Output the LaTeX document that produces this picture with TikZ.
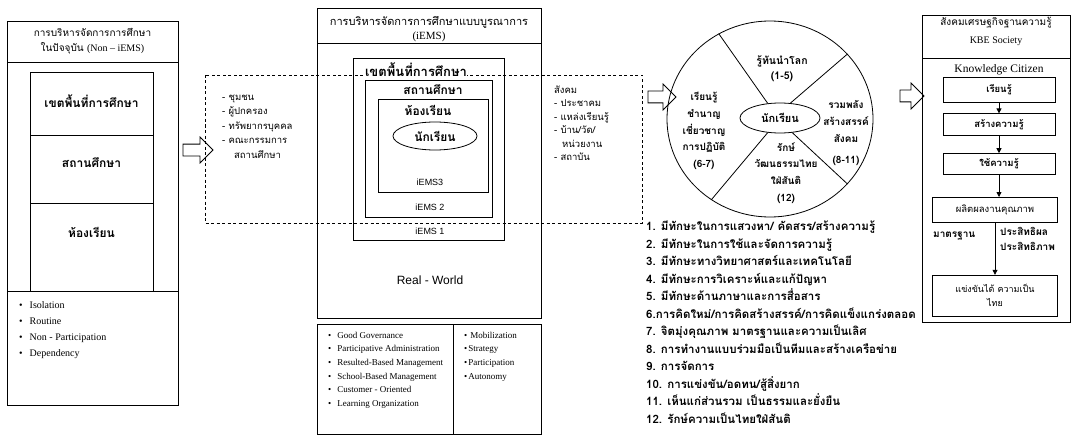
\documentclass[tikz,border=0pt]{standalone}
\usepackage{fontspec}
\setmainfont{Liberation Serif}
\setsansfont{Liberation Sans}
\newfontfamily\thaifont[Script=Thai]{Loma}
\usetikzlibrary{positioning,shapes.geometric,shapes.arrows,arrows.meta}

\begin{document}
\begin{tikzpicture}[
    x=1pt, y=-1pt,
    every node/.style={inner sep=1pt},
    frame/.style={draw, line width=0.8pt},
    zone/.style={draw, line width=0.8pt, dash pattern=on 3pt off 2.5pt},
    thtitle/.style={align=center, font={\thaifont\fontsize{10}{15}\selectfont}},
    thlabel/.style={align=center, font={\thaifont\bfseries\fontsize{12}{15}\selectfont}},
    thring/.style={align=center, font={\thaifont\bfseries\fontsize{10}{16.7}\selectfont}},
    thitem/.style={anchor=west, text height=7pt, text depth=2.5pt, font={\thaifont\fontsize{9.5}{12}\selectfont}},
    thskill/.style={anchor=west, text height=8pt, text depth=3pt, font={\thaifont\bfseries\fontsize{11.5}{13}\selectfont}},
    thnote/.style={align=left, font={\thaifont\bfseries\fontsize{10}{15}\selectfont}},
    enitem/.style={anchor=west, text height=6pt, text depth=1.5pt, font={\fontsize{9}{10}\selectfont}},
    tag/.style={font={\sffamily\fontsize{9}{11}\selectfont}},
    bigarrow/.style={draw, line width=0.8pt, fill=white, single arrow, single arrow head extend=7pt,
                     inner sep=0pt, text height=11pt, text depth=0pt, minimum height=#1},
    kbebox/.style={draw, line width=0.8pt, align=center, font={\thaifont\bfseries\fontsize{9.5}{13}\selectfont}},
    flow/.style={-{Triangle[length=5pt,width=5pt]}, line width=0.8pt}
]
\useasboundingbox (0,0) rectangle (1072,436);

% Present management (Non - iEMS)
\draw[frame] (7,21) rectangle (178,405);
\draw[frame] (7,62) -- (178,62);
\draw[frame] (7,291) -- (178,291);
\draw[frame] (30,291) -- (30,72) -- (153,72) -- (153,291);
\draw[frame] (30,135) -- (153,135);
\draw[frame] (30,203) -- (153,203);
\node[thtitle] (nowtitle) at (92.5,41.5) {การบริหารจัดการการศึกษา\\ในปัจจุบัน {\rmfamily (Non -- iEMS)}};
\node[thlabel] (nowzone) at (91.5,101) {เขตพื้นที่การศึกษา};
\node[thlabel] (nowschool) at (91.5,163) {สถานศึกษา};
\node[thlabel] (nowroom) at (91.5,232) {ห้องเรียน};
\node[enitem, font={\fontsize{10}{11}\selectfont}] (isolation) at (18,306) {\textbullet\hspace{7pt}Isolation};
\node[below=16pt of isolation.west, enitem, font={\fontsize{10}{11}\selectfont}] (routine) {\textbullet\hspace{7pt}Routine};
\node[below=16pt of routine.west, enitem, font={\fontsize{10}{11}\selectfont}] (nonpart) {\textbullet\hspace{7pt}Non - Participation};
\node[below=16pt of nonpart.west, enitem, font={\fontsize{10}{11}\selectfont}] (depend) {\textbullet\hspace{7pt}Dependency};

% Arrow to the integrated model
\node[bigarrow=30pt] (toiems) at (195,150) {};

% Integrated management (iEMS)
\draw[frame] (317,8) rectangle (541,318);
\draw[frame] (317,43) -- (541,43);
\draw[frame] (353,58) rectangle (504,240);
\draw[frame] (365,80) rectangle (492,217);
\draw[frame] (378,99) rectangle (488,192);
\draw[zone] (205,75) rectangle (642,223);
\node[thtitle, font={\thaifont\fontsize{11}{14}\selectfont}] (iemstitle) at (429,29) {การบริหารจัดการการศึกษาแบบบูรณาการ\\{\rmfamily (iEMS)}};
\node[thlabel, fill=white, inner sep=0.5pt, font={\thaifont\bfseries\fontsize{13}{15}\selectfont}] (zone) at (416,70) {เขตพื้นที่การศึกษา};
\node[thlabel] (school) at (433,90) {สถานศึกษา};
\node[thlabel] (room) at (428,110) {ห้องเรียน};
\node[thlabel, draw, ellipse, line width=0.8pt, minimum width=84pt, minimum height=28pt] (pupil) at (435,136) {นักเรียน};
\node[tag] (iems3) at (430,182) {iEMS3};
\node[tag] (iems2) at (430,207) {iEMS 2};
\node[tag] (iems1) at (430,231) {iEMS 1};
\node[font={\sffamily\fontsize{12}{14}\selectfont}] (realworld) at (430,280) {Real - World};

% Community and society partners
\node[thitem] (community) at (221,98) {- ชุมชน};
\node[below=14.5pt of community.west, thitem] (parents) {- ผู้ปกครอง};
\node[below=14.5pt of parents.west, thitem] (staff) {- ทรัพยากรบุคคล};
\node[below=14.5pt of staff.west, thitem] (board) {- คณะกรรมการ};
\node[below=14.5pt of board.west, thitem, xshift=12pt] (boardb) {สถานศึกษา};
\node[thitem] (society) at (553,91) {สังคม};
\node[below=13.5pt of society.west, thitem] (public) {- ประชาคม};
\node[below=13.5pt of public.west, thitem] (sources) {- แหล่งเรียนรู้};
\node[below=13.5pt of sources.west, thitem] (temple) {- บ้าน/วัด/};
\node[below=13.5pt of temple.west, thitem, xshift=8pt] (agency) {หน่วยงาน};
\node[below=13.5pt of agency.west, thitem, xshift=-8pt] (institute) {- สถาบัน};

% Principles of the integrated model
\draw[frame] (317,324) rectangle (541,434.5);
\draw[frame] (453,324) -- (453,434.5);
\node[enitem] (govern) at (327,336) {\textbullet\hspace{6pt}Good Governance};
\node[below=13.6pt of govern.west, enitem] (partadmin) {\textbullet\hspace{6pt}Participative Administration};
\node[below=13.6pt of partadmin.west, enitem] (rbm) {\textbullet\hspace{6pt}Resulted-Based Management};
\node[below=13.6pt of rbm.west, enitem] (sbm) {\textbullet\hspace{6pt}School-Based Management};
\node[below=13.6pt of sbm.west, enitem] (customer) {\textbullet\hspace{6pt}Customer - Oriented};
\node[below=13.6pt of customer.west, enitem] (learnorg) {\textbullet\hspace{6pt}Learning Organization};
\node[enitem] (mobil) at (463,336) {\textbullet\hspace{3pt}Mobilization};
\node[below=13.6pt of mobil.west, enitem] (strategy) {\textbullet\hspace{1pt}Strategy};
\node[below=13.6pt of strategy.west, enitem] (particip) {\textbullet\hspace{1pt}Participation};
\node[below=13.6pt of particip.west, enitem] (autonomy) {\textbullet\hspace{1pt}Autonomy};

% Arrow to the learner circle
\node[bigarrow=28pt] (toring) at (659,97) {};

% Learner circle
\node[draw, ellipse, line width=0.8pt, minimum width=206pt, minimum height=196pt, inner sep=0pt] (ring) at (770,119) {};
\node[thlabel, draw, ellipse, line width=0.8pt, minimum width=80pt, minimum height=30pt, font={\thaifont\bfseries\fontsize{11}{15}\selectfont}] (student) at (780,118) {นักเรียน};
\draw[frame] (student.130) -- (ring.121);
\draw[frame] (student.55) -- (ring.40);
\draw[frame] (student.-50) -- (ring.-40);
\draw[frame] (student.-130) -- (ring.-126);
\node[thring, font={\thaifont\bfseries\fontsize{10.5}{15}\selectfont}] (worldwise) at (782,69) {รู้ทันนำโลก\\(1-5)};
\node[thring] (expert) at (704,131) {เรียนรู้\\ชำนาญ\\เชี่ยวชาญ\\การปฏิบัติ\\(6-7)};
\node[thring] (cocreate) at (846,133) {รวมพลัง\\สร้างสรรค์\\สังคม\\[4pt](8-11)};
\node[thring] (thainess) at (786,173) {รักษ์\\วัฒนธรรมไทย\\ใฝ่สันติ\\(12)};

% Learner competencies
\node[thskill] (skill1) at (645,228) {1. มีทักษะในการแสวงหา/ คัดสรร/สร้างความรู้};
\node[below=17.5pt of skill1.west, thskill] (skill2) {2. มีทักษะในการใช้และจัดการความรู้};
\node[below=17.5pt of skill2.west, thskill] (skill3) {3. มีทักษะทางวิทยาศาสตร์และเทคโนโลยี};
\node[below=17.5pt of skill3.west, thskill] (skill4) {4. มีทักษะการวิเคราะห์และแก้ปัญหา};
\node[below=17.5pt of skill4.west, thskill] (skill5) {5. มีทักษะด้านภาษาและการสื่อสาร};
\node[below=17.5pt of skill5.west, thskill] (skill6) {6.การคิดใหม่/การคิดสร้างสรรค์/การคิดแข็งแกร่งตลอด};
\node[below=17.5pt of skill6.west, thskill] (skill7) {7. จิตมุ่งคุณภาพ มาตรฐานและความเป็นเลิศ};
\node[below=17.5pt of skill7.west, thskill] (skill8) {8. การทำงานแบบร่วมมือเป็นทีมและสร้างเครือข่าย};
\node[below=17.5pt of skill8.west, thskill] (skill9) {9. การจัดการ};
\node[below=17.5pt of skill9.west, thskill] (skill10) {10. การแข่งขัน/อดทน/สู้สิ่งยาก};
\node[below=17.5pt of skill10.west, thskill] (skill11) {11. เห็นแก่ส่วนรวม เป็นธรรมและยั่งยืน};
\node[below=17.5pt of skill11.west, thskill] (skill12) {12. รักษ์ความเป็นไทยใฝ่สันติ};

% Arrow to the knowledge-based society
\node[bigarrow=24pt] (tokbe) at (909,96) {};

% Knowledge-based economy society
\draw[frame] (922,15) rectangle (1070,322);
\draw[frame] (922,58) -- (1070,58);
\node[thtitle, font={\thaifont\fontsize{10}{18}\selectfont}] (kbetitle) at (996,31) {สังคมเศรษฐกิจฐานความรู้\\{\rmfamily KBE Society}};
\node[font={\fontsize{11.5}{13}\selectfont}] (citizen) at (999,70) {Knowledge Citizen};
\node[kbebox, minimum width=112pt, minimum height=25pt] (learn) at (999,89.5) {เรียนรู้};
\node[kbebox, minimum width=112pt, minimum height=22pt, below=11pt of learn] (create) {สร้างความรู้};
\node[kbebox, minimum width=112pt, minimum height=21pt, below=17pt of create] (apply) {ใช้ความรู้};
\node[kbebox, minimum width=125pt, minimum height=25pt, below=22pt of apply, xshift=-4pt, font={\thaifont\fontsize{9.5}{13}\selectfont}] (produce) {ผลิตผลงานคุณภาพ};
\node[kbebox, minimum width=125pt, minimum height=41pt, below=52pt of produce, font={\thaifont\fontsize{9}{14}\selectfont}] (compete) {แข่งขันได้ ความเป็น\\ไทย};
\draw[flow] (learn) -- (create);
\draw[flow] (create) -- (apply);
\draw[flow] (apply.south) -- (apply.south |- produce.north);
\draw[flow] (produce) -- (compete);
\node[thnote, anchor=west] (standard) at (932,236) {มาตรฐาน};
\node[thnote, anchor=north west] (efficacy) at (999,226) {ประสิทธิผล\\ประสิทธิภาพ};

\end{tikzpicture}
\end{document}
